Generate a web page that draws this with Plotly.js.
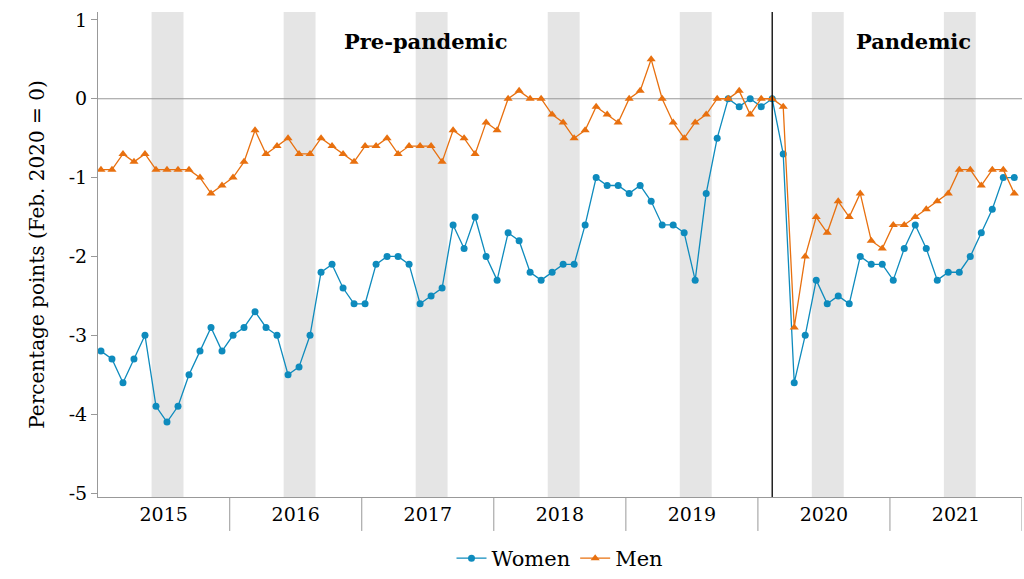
<!DOCTYPE html>
<html>
<head>
<meta charset="utf-8">
<script src="https://cdn.plot.ly/plotly-3.0.1.min.js"></script>
<style>body{margin:0;background:#fff}</style>
</head>
<body>
<div id="myDiv" style="width:1024px;height:579px"></div>
<script>
// month index 0 = Jan 2015 ... 83 = Dec 2021
const years = ["2015", "2016", "2017", "2018", "2019", "2020", "2021"];
const women = [-3.2, -3.3, -3.6, -3.3, -3.0, -3.9, -4.1, -3.9, -3.5, -3.2, -2.9, -3.2,
  -3.0, -2.9, -2.7, -2.9, -3.0, -3.5, -3.4, -3.0, -2.2, -2.1, -2.4, -2.6,
  -2.6, -2.1, -2.0, -2.0, -2.1, -2.6, -2.5, -2.4, -1.6, -1.9, -1.5, -2.0,
  -2.3, -1.7, -1.8, -2.2, -2.3, -2.2, -2.1, -2.1, -1.6, -1.0, -1.1, -1.1,
  -1.2, -1.1, -1.3, -1.6, -1.6, -1.7, -2.3, -1.2, -0.5, 0.0, -0.1, 0.0,
  -0.1, 0.0, -0.7, -3.6, -3.0, -2.3, -2.6, -2.5, -2.6, -2.0, -2.1, -2.1,
  -2.3, -1.9, -1.6, -1.9, -2.3, -2.2, -2.2, -2.0, -1.7, -1.4, -1.0, -1.0];
const men = [-0.9, -0.9, -0.7, -0.8, -0.7, -0.9, -0.9, -0.9, -0.9, -1.0, -1.2, -1.1,
  -1.0, -0.8, -0.4, -0.7, -0.6, -0.5, -0.7, -0.7, -0.5, -0.6, -0.7, -0.8,
  -0.6, -0.6, -0.5, -0.7, -0.6, -0.6, -0.6, -0.8, -0.4, -0.5, -0.7, -0.3,
  -0.4, 0.0, 0.1, 0.0, 0.0, -0.2, -0.3, -0.5, -0.4, -0.1, -0.2, -0.3,
  0.0, 0.1, 0.5, 0.0, -0.3, -0.5, -0.3, -0.2, 0.0, 0.0, 0.1, -0.2,
  0.0, 0.0, -0.1, -2.9, -2.0, -1.5, -1.7, -1.3, -1.5, -1.2, -1.8, -1.9,
  -1.6, -1.6, -1.5, -1.4, -1.3, -1.2, -0.9, -0.9, -1.1, -0.9, -0.9, -1.2];
const months = women.map((_, i) => i);
const pandemicStart = 61; // Feb 2020

const font = "'DejaVu Serif', 'Liberation Serif', serif";
const shapes = [];
years.forEach((y, k) => {
  shapes.push({type: "rect", xref: "x", yref: "paper", x0: 4.6 + 12 * k, x1: 7.5 + 12 * k,
    y0: 0, y1: 1, fillcolor: "#e5e5e5", line: {width: 0}, layer: "below"});
  shapes.push({type: "line", xref: "x", yref: "paper", x0: 11.7 + 12 * k, x1: 11.7 + 12 * k,
    y0: 0, y1: -0.07, line: {color: "#999", width: 1}});
});
shapes.push({type: "line", xref: "paper", yref: "y", x0: 0, x1: 1, y0: 0, y1: 0,
  line: {color: "#999", width: 1.2}, layer: "below"});
shapes.push({type: "line", xref: "x", yref: "paper", x0: pandemicStart, x1: pandemicStart,
  y0: 0, y1: 1, line: {color: "#000", width: 1.3}});

const data = [
  {x: months, y: women, name: "Women", mode: "lines+markers", type: "scatter",
    line: {color: "#0e8bbd", width: 1.3}, marker: {symbol: "circle", size: 7, color: "#0e8bbd"}},
  {x: months, y: men, name: "Men", mode: "lines+markers", type: "scatter",
    line: {color: "#e8700f", width: 1.3}, marker: {symbol: "triangle-up", size: 8, color: "#e8700f"}}
];

const layout = {
  width: 1024, height: 579,
  margin: {l: 98, r: 2, t: 12, b: 82},
  paper_bgcolor: "#fff", plot_bgcolor: "#fff",
  font: {family: font, size: 19, color: "#000"},
  showlegend: true,
  legend: {orientation: "h", x: 0.5, xanchor: "center", yref: "container", y: 0.0, yanchor: "bottom",
    font: {family: font, size: 21}},
  xaxis: {range: [-0.27, 83.7], tickvals: years.map((_, k) => 5.7 + 12 * k), ticktext: years,
    ticks: "", showgrid: false, zeroline: false, showline: true, linecolor: "#999", linewidth: 1,
    tickfont: {family: font, size: 19}, automargin: false},
  yaxis: {range: [-5.05, 1.1], tickvals: [-5, -4, -3, -2, -1, 0, 1], ticktext: ["-5", "-4", "-3", "-2", "-1", "0", "1"],
    ticks: "outside", ticklen: 6, tickcolor: "#999", showgrid: false, zeroline: false,
    showline: true, linecolor: "#999", linewidth: 1, tickfont: {family: font, size: 19},
    title: {text: "Percentage points (Feb. 2020 = 0)", font: {family: font, size: 20}, standoff: 18}},
  shapes: shapes,
  annotations: [
    {xref: "x", yref: "y", x: 29.5, y: 0.72, text: "<b>Pre-pandemic</b>", showarrow: false,
      font: {family: font, size: 21}},
    {xref: "x", yref: "y", x: 73.8, y: 0.72, text: "<b>Pandemic</b>", showarrow: false,
      font: {family: font, size: 21}}
  ]
};

Plotly.newPlot("myDiv", data, layout, {displayModeBar: false});
</script>
</body>
</html>
